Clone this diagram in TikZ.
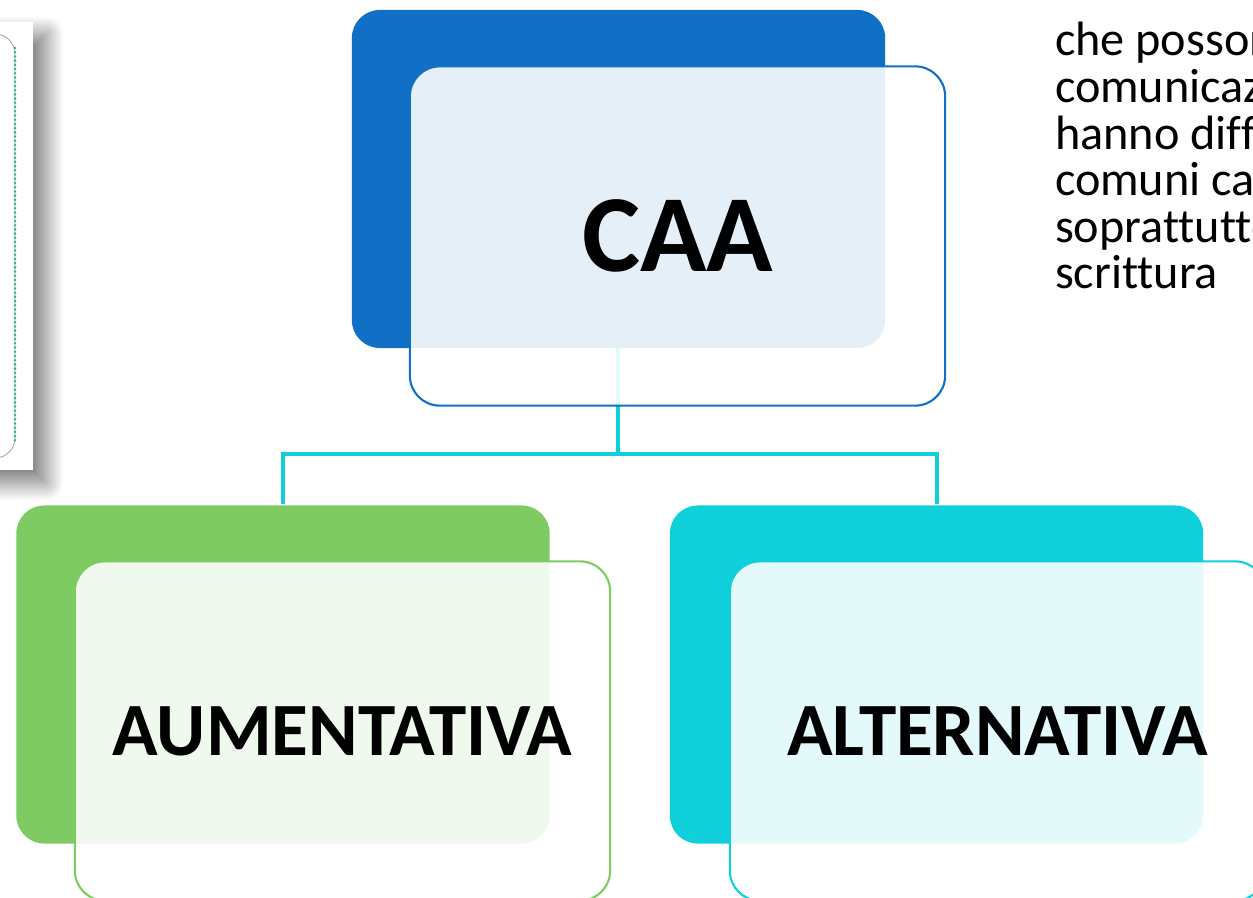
\documentclass[tikz,border=0pt]{standalone}
\usepackage{fontspec}
\setmainfont[Ligatures=NoCommon]{Carlito}
\usepackage{xcolor}
\usepackage{tikz}
\usetikzlibrary{calc,backgrounds,shadows.blur,positioning}
\definecolor{CaaBlue}{RGB}{17,112,198}
\definecolor{AumGreen}{RGB}{125,203,98}
\definecolor{AltCyan}{RGB}{14,207,218}
\definecolor{FrameTeal}{RGB}{52,178,140}

\begin{document}
\begin{tikzpicture} [x=0.025cm, y=-0.025cm,
       every node/.style={inner sep=0pt, outer sep=0pt, text=black},
       backbox/.style = {rectangle, rounded corners=0.7cm,
                         minimum width=13.33cm, minimum height=8.45cm, fill=#1},
       frontbox/.style = {rectangle, rounded corners=0.75cm,
                          minimum width=13.38cm, minimum height=8.48cm,
                          draw=#1, line width=1.5pt, fill=white,
                          fill opacity=0.89, text opacity=1,
                          font=\bfseries\fontsize{53.5}{56}\selectfont},
       link/.style = {draw=AltCyan, line width=2.4pt}]

	%% Page size
	\clip (0,0) rectangle (1253,898);

	%% Screenshot on the left (mostly outside the page)
	\node [rectangle, fill=white, minimum width=1.5cm, minimum height=11.2cm,
	       blur shadow={shadow xshift=9pt, shadow yshift=-9pt, shadow blur steps=40,
	                    shadow blur radius=13pt, shadow opacity=55}]
	      (shot) at (3,246) {};
	\draw [gray!70, line width=0.6pt, rounded corners=0.5cm] (-40,34) rectangle (15,458);
	\draw [FrameTeal, line width=2pt, line cap=round, dash pattern=on 0pt off 3pt]
	      (15,48) -- (15,444);

	%% Connectors (behind the boxes)
	\coordinate (fork) at (618,454);
	\draw [link] (618,348) -- (fork);
	\draw [link] (fork) -| (283,504);
	\draw [link] (fork) -| (937,504);

	%% Filled back boxes
	\node [backbox=CaaBlue]  (caaback) at (618.5,179)   {};
	\node [backbox=AumGreen] (aumback) at (283,674.5)   {};
	\node [backbox=AltCyan]  (altback) at (936.5,674.5) {};

	%% Outlined front boxes with the labels
	\node [frontbox=CaaBlue, font=\bfseries\fontsize{78}{80}\selectfont]
	      (caa) at (677.5,236) {CAA};
	\node [frontbox=AumGreen] (aum) at (342.5,731) {AUMENTATIVA};
	\node [frontbox=AltCyan]  (alt) at (997.5,731) {ALTERNATIVA};

	%% Text on the right, cut by the page edge
	\foreach [count=\i] \t in {che posson,comunicaz,hanno diff,comuni ca,soprattutto,scrittura}
		{\node [anchor=base west, font=\fontsize{34.3}{36}\selectfont]
		       (note\i) at (1055,{56+46.6*(\i-1)}) {\t};}
\end{tikzpicture}
\end{document}
